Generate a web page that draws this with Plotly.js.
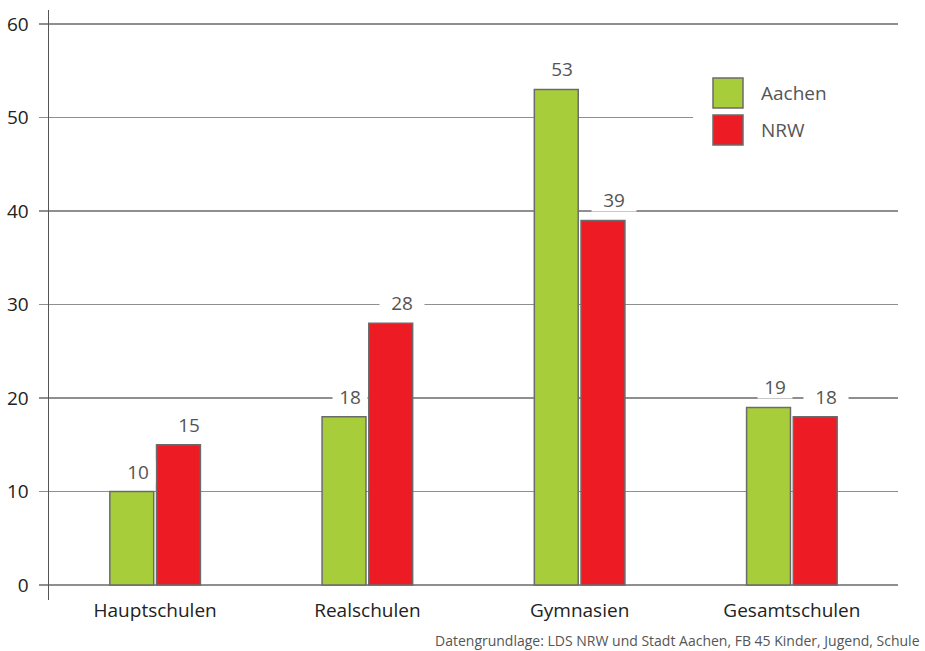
<!DOCTYPE html>
<html>
<head>
<meta charset="utf-8">
<script src="https://cdn.plot.ly/plotly-3.0.1.min.js"></script>
<style>
  html, body { margin: 0; padding: 0; background: #fff; }
  #chart { width: 925px; height: 651px; }
</style>
</head>
<body>
<div id="chart"></div>
<script>
// Schulformen: Anteile in Prozent, Aachen im Vergleich zu NRW
const categories = ['Hauptschulen', 'Realschulen', 'Gymnasien', 'Gesamtschulen'];
const aachen = [10, 18, 53, 19];
const nrw = [15, 28, 39, 18];
const seriesNames = ['Aachen', 'NRW'];
const seriesColors = ['#a8cd3a', '#ed1c24'];
const yTicks = [0, 10, 20, 30, 40, 50, 60];
const sourceNote = 'Datengrundlage: LDS NRW und Stadt Aachen, FB 45 Kinder, Jugend, Schule';

const FONT = 'Open Sans, Noto Sans, sans-serif';
const W = 925, H = 651;
const margin = { l: 49, r: 27, t: 10, b: 51 };
const plotW = W - margin.l - margin.r;
const plotH = H - margin.t - margin.b;
const bargap = 0.56, bargroupgap = 0.06;

const series = [aachen, nrw];
const traces = series.map((vals, i) => ({
  type: 'bar',
  name: seriesNames[i],
  x: categories,
  y: vals,
  marker: { color: seriesColors[i], line: { color: '#6b6b6b', width: 1.5 } },
  hoverinfo: 'x+y+name'
}));

// pixel offset of each bar within its category group
const catPx = plotW / categories.length;
const slotPx = catPx * (1 - bargap) / series.length;
const labelNudge = [6, 11];
const labelBoxW = [32, 42];
const annotations = [];
series.forEach((vals, i) => {
  const offset = (i - (series.length - 1) / 2) * slotPx + labelNudge[i];
  vals.forEach((v, j) => {
    annotations.push({
      xref: 'x', yref: 'y', x: categories[j], y: v,
      text: String(v), showarrow: false,
      xanchor: 'center', yanchor: 'bottom',
      xshift: offset, yshift: 8,
      width: labelBoxW[i], height: 20, borderpad: 1,
      bgcolor: '#ffffff',
      font: { family: FONT, size: 19, color: '#555555' }
    });
  });
});

// legend: white panel over the grid with colour swatches and names
const px = x => (x - margin.l) / plotW;
const py = y => (margin.t + plotH - y) / plotH;
const shapes = [{
  type: 'rect', xref: 'paper', yref: 'paper', layer: 'above',
  x0: px(693), x1: px(905), y0: py(160), y1: py(62),
  fillcolor: '#ffffff', line: { width: 0 }
}];
const swatchTop = [78, 115];
seriesNames.forEach((name, i) => {
  shapes.push({
    type: 'rect', xref: 'paper', yref: 'paper', layer: 'above',
    x0: px(713), x1: px(743), y0: py(swatchTop[i] + 30), y1: py(swatchTop[i]),
    fillcolor: seriesColors[i], line: { color: '#6b6b6b', width: 1.5 }
  });
  annotations.push({
    xref: 'paper', yref: 'paper', x: px(759), y: py(swatchTop[i] + 15),
    xanchor: 'left', yanchor: 'middle', showarrow: false,
    text: name, font: { family: FONT, size: 19, color: '#555555' }
  });
});

annotations.push({
  xref: 'paper', yref: 'paper', x: px(922), y: py(640),
  xanchor: 'right', yanchor: 'middle', showarrow: false,
  text: sourceNote, font: { family: FONT, size: 14, color: '#555555' }
});

const layout = {
  width: W, height: H,
  margin: margin,
  paper_bgcolor: '#ffffff', plot_bgcolor: '#ffffff',
  showlegend: false,
  barmode: 'group', bargap: bargap, bargroupgap: bargroupgap,
  font: { family: FONT, color: '#222222' },
  xaxis: {
    type: 'category', showgrid: false, showline: false, zeroline: false,
    ticks: '', ticklabelstandoff: -3,
    tickfont: { family: FONT, size: 19, color: '#222222' }
  },
  yaxis: {
    range: [-1.6, 61.5], tickvals: yTicks, ticktext: yTicks.map(String),
    showgrid: true, gridcolor: '#8f8f8f', gridwidth: 1.3,
    zeroline: true, zerolinecolor: '#8f8f8f', zerolinewidth: 1.3,
    showline: true, linecolor: '#555555', linewidth: 1.5,
    ticks: 'outside', ticklen: 9, tickcolor: '#8f8f8f', tickwidth: 1.3,
    ticklabelstandoff: 6,
    tickfont: { family: FONT, size: 19, color: '#222222' }
  },
  shapes: shapes,
  annotations: annotations
};

Plotly.newPlot('chart', traces, layout, { displayModeBar: false, staticPlot: true });
</script>
</body>
</html>
